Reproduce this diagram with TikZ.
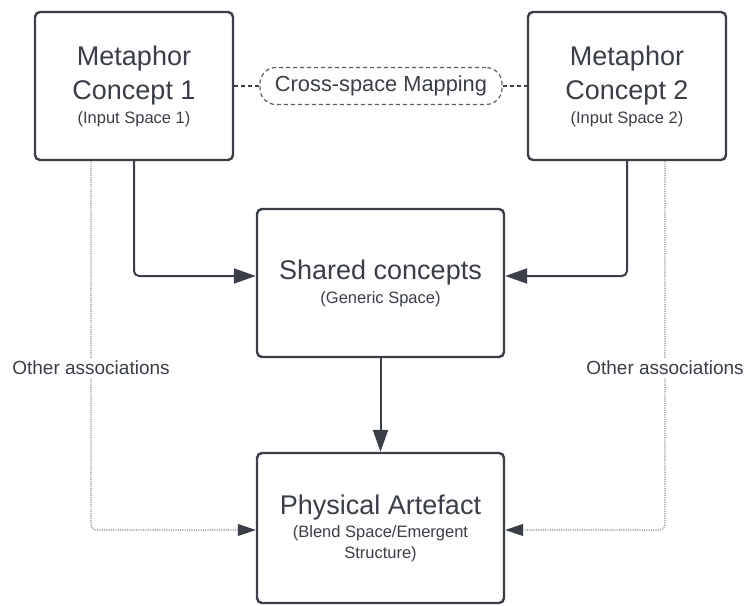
\documentclass[tikz,border=0pt]{standalone}
\usepackage{fontspec}
\setmainfont{Liberation Sans}
\usetikzlibrary{arrows.meta,calc}
\definecolor{ink}{HTML}{3A3F47}
\definecolor{dotgray}{HTML}{8E9196}
\definecolor{dashgray}{HTML}{5A5E65}

\newcommand{\subsize}{\fontsize{16.5}{20}\selectfont}

\tikzset{
  conceptbox/.style={draw=ink, line width=2.4pt, rounded corners=5pt, fill=white,
    align=center, text=ink, inner sep=0pt},
  titlefont/.style={font=\fontsize{27}{34}\selectfont},
  conn/.style={draw=ink, line width=2pt, rounded corners=5pt,
    -{Triangle[length=22pt,width=15pt]}},
  dotconn/.style={draw=dotgray, line width=1.1pt, dash pattern=on 1.2pt off 1.1pt,
    rounded corners=5pt, -{Triangle[length=18pt,width=12pt,color=ink]}},
  dashlink/.style={draw=ink, line width=1.5pt, dash pattern=on 4pt off 3pt},
  pill/.style={draw=dashgray, line width=1.2pt, dash pattern=on 4pt off 3pt,
    rounded corners=16pt, fill=white, text=ink, inner sep=0pt,
    font=\fontsize{21.8}{25}\selectfont},
  assoc/.style={fill=white, text=ink, inner xsep=2pt, inner ysep=3pt,
    font=\fontsize{19}{23}\selectfont}
}

\begin{document}
\begin{tikzpicture}[x=1pt,y=-1pt]
\useasboundingbox (0,0) rectangle (744,605);

% the four concept boxes
\node[conceptbox, titlefont, minimum width=198pt, minimum height=148pt] (mc1) at (134,86)
  {Metaphor\\Concept 1\\[-10pt]{\subsize (Input Space 1)}};
\node[conceptbox, titlefont, minimum width=198pt, minimum height=148pt] (mc2) at (627,86)
  {Metaphor\\Concept 2\\[-10pt]{\subsize (Input Space 2)}};
\node[conceptbox, titlefont, minimum width=247pt, minimum height=148pt] (sc) at (380.5,283)
  {Shared concepts\\[-10pt]{\subsize (Generic Space)}};
\node[conceptbox, titlefont, minimum width=247pt, minimum height=150pt] (pa) at (380.5,528)
  {Physical Artefact\\[-11pt]{\subsize (Blend Space/Emergent}\\[-13pt]{\subsize Structure)}};

% cross-space mapping between the two inputs
\node[pill, minimum width=242pt, minimum height=37pt] (cs) at (381,86) {Cross-space Mapping};
\draw[dashlink] (mc1.east) -- (cs.west);
\draw[dashlink] (cs.east) -- (mc2.west);

% projections into the generic space and the blend
\draw[conn] (mc1.south) |- ($(sc.west)+(0,-7)$);
\draw[conn] (mc2.south) |- ($(sc.east)+(0,-7)$);
\draw[conn] (sc.south) -- (pa.north);

% other associations feeding the blend
\draw[dotconn] ($(mc1.south)+(-43,0)$) |- ($(pa.west)+(0,2)$);
\draw[dotconn] ($(mc2.south)+(38,0)$) |- ($(pa.east)+(0,2)$);
\node[assoc] (oa1) at (91,368) {Other associations};
\node[assoc] (oa2) at (665,368) {Other associations};
\end{tikzpicture}
\end{document}
